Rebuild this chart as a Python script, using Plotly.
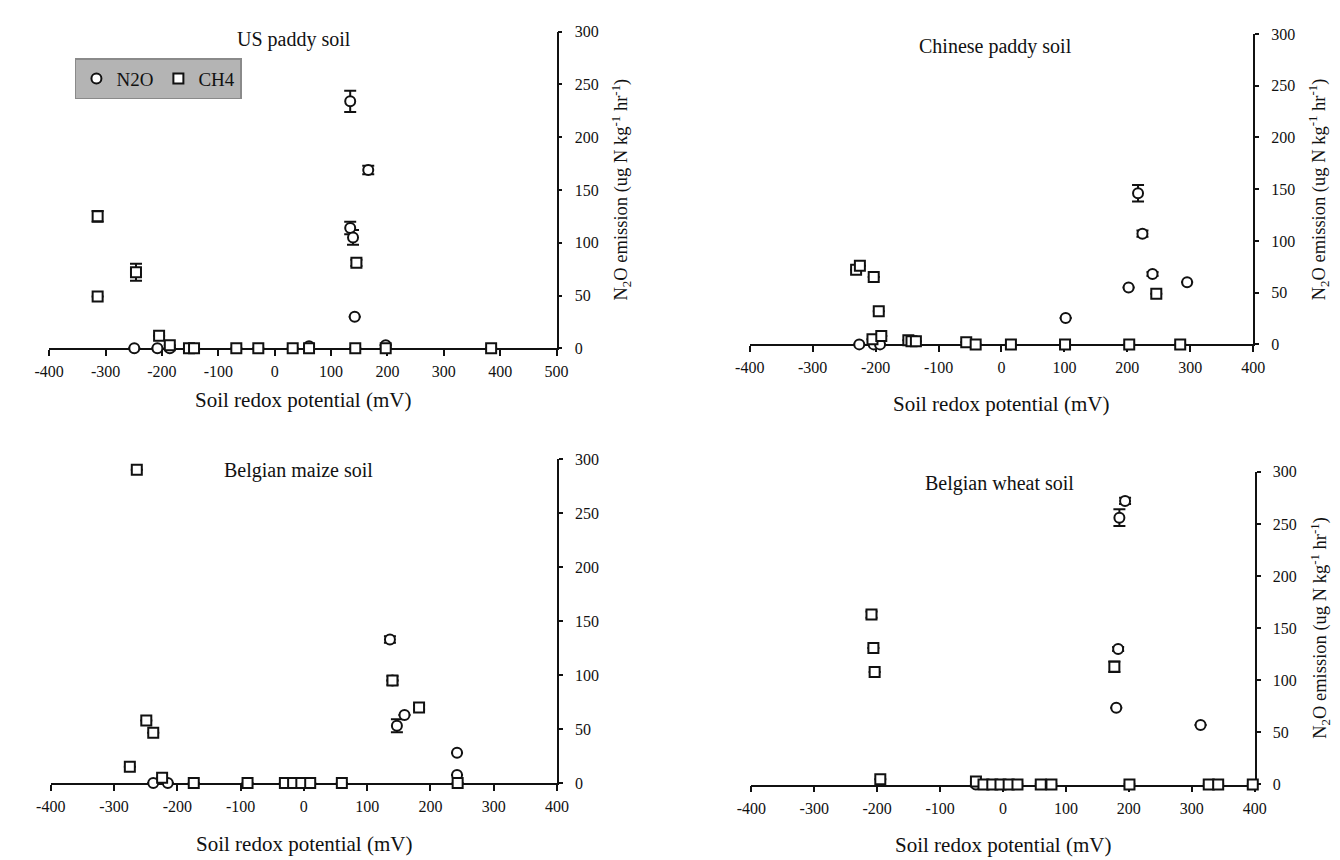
import plotly.graph_objects as go

# ---------------- data ----------------
# US paddy soil
us_n2o_eh = [-249, -208, -186, 61, 197, 134, 166, 134, 139, 142]
us_n2o = [0, 0, 0, 2, 3, 234, 169, 114, 105, 30]
us_n2o_err = [0, 0, 0, 0, 0, 10, 4, 6, 7, 0]
us_ch4_eh = [-314, -314, -246, -205, -186, -152, -143, -68, -29, 32, 61, 143, 197, 145, 384]
us_ch4 = [125, 49, 72, 12, 3, 0, 0, 0, 0, 0, 0, 0, 0, 81, 0]
us_ch4_err = [5, 0, 8, 0, 0, 0, 0, 0, 0, 0, 0, 0, 0, 3, 0]

# Chinese paddy soil
cn_n2o_eh = [-226, -203, -193, 102, 202, 217, 224, 240, 295]
cn_n2o = [0, 0, 0, 25.5, 55, 146, 107, 68, 60]
cn_n2o_err = [0, 0, 0, 0, 0, 8, 3, 2, 0]
cn_ch4_eh = [-231, -225, -203, -195, -205, -191, -148, -143, -136, -56, -41, 15, 101, 203, 284, 246]
cn_ch4 = [72, 76, 65, 32, 5, 8, 4, 3, 3, 2, 0, 0, 0, 0, 0, 49]
cn_ch4_err = [0] * 16

# Belgian maize soil
bm_n2o_eh = [-238, -215, 136, 140, 147, 159, 242, 242]
bm_n2o = [0, 0, 133, 95, 53, 63, 28, 7.5]
bm_n2o_err = [0, 0, 3, 0, 6, 0, 0, 0]
bm_ch4_eh = [-275, -264, -249, -238, -224, -174, -89, -30, -17, -4, 10, 60, 140, 182, 243]
bm_ch4 = [15, 290, 58, 46.5, 5, 0, 0, 0, 0, 0, 0, 0, 95, 70, 0]
bm_ch4_err = [0, 0, 0, 0, 0, 0, 0, 0, 0, 0, 0, 0, 4, 2, 0]

# Belgian wheat soil
bw_n2o_eh = [-43, 180, 183, 185, 194, 314]
bw_n2o = [0, 73.6, 130, 256, 272, 57]
bw_n2o_err = [0, 0, 2, 8, 3, 0]
bw_ch4_eh = [-209, -206, -204, -195, -43, -31, -17, -4, 9, 23, 60, 77, 177, 201, 327, 342, 397]
bw_ch4 = [163, 131, 108, 5, 3, 0, 0, 0, 0, 0, 0, 0, 113, 0, 0, 0, 0]
bw_ch4_err = [3, 0, 0, 0, 0, 0, 0, 0, 0, 0, 0, 0, 5, 0, 0, 0, 0]

panel_titles = ["US paddy soil", "Chinese paddy soil", "Belgian maize soil", "Belgian wheat soil"]
x_ticks_wide = [-400, -300, -200, -100, 0, 100, 200, 300, 400, 500]
x_ticks = [-400, -300, -200, -100, 0, 100, 200, 300, 400]
y_ticks = [0, 50, 100, 150, 200, 250, 300]
x_title = "Soil redox potential (mV)"
y_title = "N<sub>2</sub>O emission (ug N kg<sup>-1</sup> hr<sup>-1</sup>)"

# ---------------- figure ----------------
W, H = 1340, 860
FONT = "Liberation Serif"
BLACK = "#111111"

panels = [
    dict(n2o=(us_n2o_eh, us_n2o, us_n2o_err), ch4=(us_ch4_eh, us_ch4, us_ch4_err),
         xt=x_ticks_wide, xpx=(26.7, 544.5), ypx=(16, 339), tpos=(277, 24), xtit_y=392, ytit=True),
    dict(n2o=(cn_n2o_eh, cn_n2o, cn_n2o_err), ch4=(cn_ch4_eh, cn_ch4, cn_ch4_err),
         xt=x_ticks, xpx=(741.7, 1255.5), ypx=(18.3, 335), tpos=(992, 31), xtit_y=396, ytit=True),
    dict(n2o=(bm_n2o_eh, bm_n2o, bm_n2o_err), ch4=(bm_ch4_eh, bm_ch4, bm_ch4_err),
         xt=x_ticks, xpx=(28.3, 545), ypx=(452, 782.5), tpos=(281, 464), xtit_y=845, ytit=False),
    dict(n2o=(bw_n2o_eh, bw_n2o, bw_n2o_err), ch4=(bw_ch4_eh, bw_ch4, bw_ch4_err),
         xt=x_ticks, xpx=(743.3, 1257), ypx=(465, 784), tpos=(997, 477), xtit_y=846, ytit=True),
]

fig = go.Figure()
annotations = []
for i, p in enumerate(panels):
    k = i + 1
    xa = "x" if k == 1 else f"x{k}"
    ya = "y" if k == 1 else f"y{k}"
    for name, (xs, ys, es), sym in (("N2O", p["n2o"], "circle"), ("CH4", p["ch4"], "square")):
        fig.add_trace(go.Scatter(
            x=xs, y=ys, mode="markers", name=name, xaxis=xa, yaxis=ya,
            showlegend=(k == 1), cliponaxis=False,
            marker=dict(symbol=sym, size=10, color="white", line=dict(color=BLACK, width=2)),
            error_y=dict(type="data", array=es, visible=True, color=BLACK, thickness=2, width=6),
        ))
    xdom = [p["xpx"][0] / W, p["xpx"][1] / W]
    ydom = [1 - p["ypx"][1] / H, 1 - p["ypx"][0] / H]
    xr = [p["xt"][0], p["xt"][-1]]
    xkey = "xaxis" if k == 1 else f"xaxis{k}"
    ykey = "yaxis" if k == 1 else f"yaxis{k}"
    fig.layout[xkey] = dict(
        domain=xdom, anchor=ya, range=xr, showgrid=False, zeroline=False,
        showline=True, linecolor=BLACK, linewidth=1.8, layer="below traces",
        ticks="outside", ticklen=6, tickwidth=1.5, tickcolor=BLACK,
        tickvals=p["xt"], ticktext=[str(v) for v in p["xt"]], ticklabelstandoff=2,
        tickfont=dict(family=FONT, size=16, color=BLACK),
    )
    # overlay axis giving the upward half of the cross ticks
    fig.layout[f"xaxis{k + 4}"] = dict(
        overlaying=xa, anchor=ya, range=xr, showgrid=False, zeroline=False,
        showline=False, ticks="inside", ticklen=6, tickwidth=1.5, tickcolor=BLACK,
        tickvals=p["xt"], showticklabels=False, side="bottom",
    )
    fig.layout[ykey] = dict(
        domain=ydom, anchor=xa, side="right", range=[0, 300], showgrid=False, zeroline=False,
        showline=True, linecolor=BLACK, linewidth=1.8, layer="below traces",
        ticks="outside", ticklen=4, tickwidth=1.8, tickcolor=BLACK,
        tickvals=y_ticks, ticktext=[str(v) for v in y_ticks], ticklabelstandoff=9,
        tickfont=dict(family=FONT, size=16, color=BLACK),
    )
    annotations.append(dict(
        text=panel_titles[i], x=p["tpos"][0] / W, y=1 - p["tpos"][1] / H,
        xref="paper", yref="paper", showarrow=False, xanchor="center", yanchor="middle",
        font=dict(family=FONT, size=20, color=BLACK)))
    annotations.append(dict(
        text=x_title, x=0.5, y=1 - p["xtit_y"] / H, xref=f"{xa} domain", yref="paper",
        showarrow=False, xanchor="center", yanchor="middle",
        font=dict(family=FONT, size=21, color=BLACK)))
    if p["ytit"]:
        annotations.append(dict(
            text=y_title, x=1, y=0.5, xref=f"{xa} domain", yref=f"{ya} domain", xshift=65,
            showarrow=False, xanchor="center", yanchor="middle", textangle=-90,
            font=dict(family=FONT, size=18.5, color=BLACK)))

fig.update_layout(
    width=W, height=H, margin=dict(l=0, r=0, t=0, b=0),
    paper_bgcolor="white", plot_bgcolor="white",
    annotations=annotations,
    legend=dict(x=53 / W, y=1 - 43 / H, xanchor="left", yanchor="top", orientation="h",
                bgcolor="#b4b4b4", bordercolor="#8a8a8a", borderwidth=1.5,
                font=dict(family=FONT, size=19, color=BLACK), itemwidth=30,
                tracegroupgap=0),
)

fig.write_html("out.html")
